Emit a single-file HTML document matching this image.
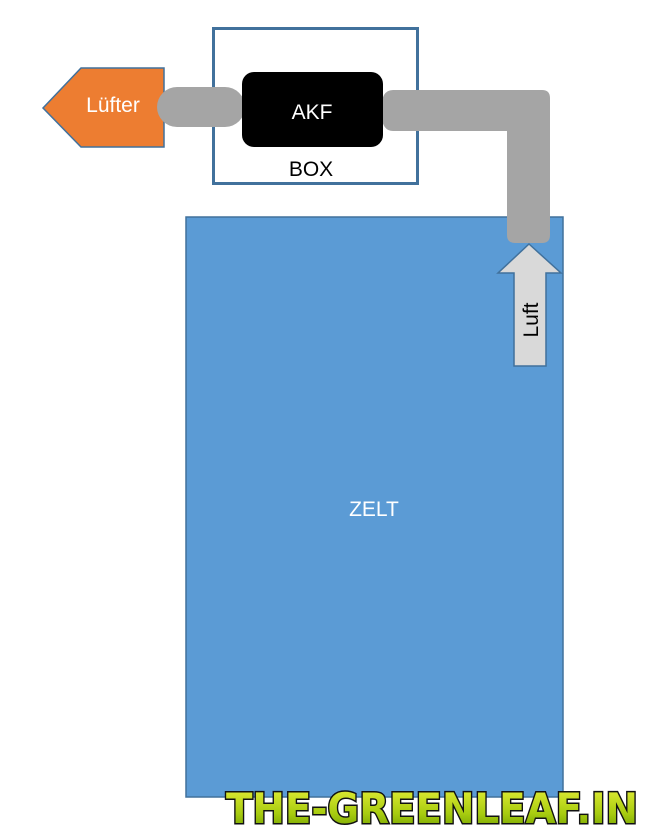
<!DOCTYPE html>
<html><head><meta charset="utf-8"><style>
html,body{margin:0;padding:0;background:#fff;width:652px;height:833px;overflow:hidden}
</style></head><body>
<svg width="652" height="833" viewBox="0 0 652 833" xmlns="http://www.w3.org/2000/svg" font-family="Liberation Sans, DejaVu Sans, sans-serif">
<defs>
<linearGradient id="g" x1="0" y1="0" x2="0" y2="1">
<stop offset="0" stop-color="#e8f03a"/><stop offset="0.6" stop-color="#a8cc10"/><stop offset="1" stop-color="#6a9a00"/>
</linearGradient>
</defs>
<rect x="186" y="217" width="377" height="580" fill="#5b9bd5" stroke="#41719c" stroke-width="1.5"/>
<text x="374" y="516" fill="#fff" font-size="21" text-anchor="middle">ZELT</text>
<rect x="213.5" y="28.5" width="204" height="155" fill="none" stroke="#41719c" stroke-width="3"/>
<text x="311" y="176" fill="#000" font-size="21" text-anchor="middle">BOX</text>
<polygon points="43,108 81,68 164,68 164,147 81,147" fill="#ed7d31" stroke="#41719c" stroke-width="1.5"/>
<text x="113" y="112" fill="#fff" font-size="21" text-anchor="middle">Lüfter</text>
<rect x="157" y="87" width="88" height="40" rx="20" fill="#a5a5a5"/>
<path d="M393,90 H542 Q550,90 550,98 V235 Q550,243 542,243 H515 Q507,243 507,235 V131 H393 Q381,131 381,110 Q381,90 393,90 Z" fill="#a5a5a5"/>
<rect x="242" y="72" width="141" height="75" rx="12" fill="#000"/>
<text x="312" y="119" fill="#fff" font-size="21" text-anchor="middle">AKF</text>
<polygon points="529,244 561,273 546,273 546,366 514,366 514,273 498,273" fill="#d9d9d9" stroke="#41719c" stroke-width="1.5"/>
<text transform="translate(538,320) rotate(-90)" fill="#000" font-size="21" text-anchor="middle">Luft</text>
<text x="432" y="823" font-size="42" font-weight="bold" text-anchor="middle" fill="url(#g)" stroke="#111" stroke-width="3" paint-order="stroke" textLength="412" lengthAdjust="spacingAndGlyphs" font-family="DejaVu Sans, sans-serif">THE-GREENLEAF.IN</text>
</svg>
</body></html>
